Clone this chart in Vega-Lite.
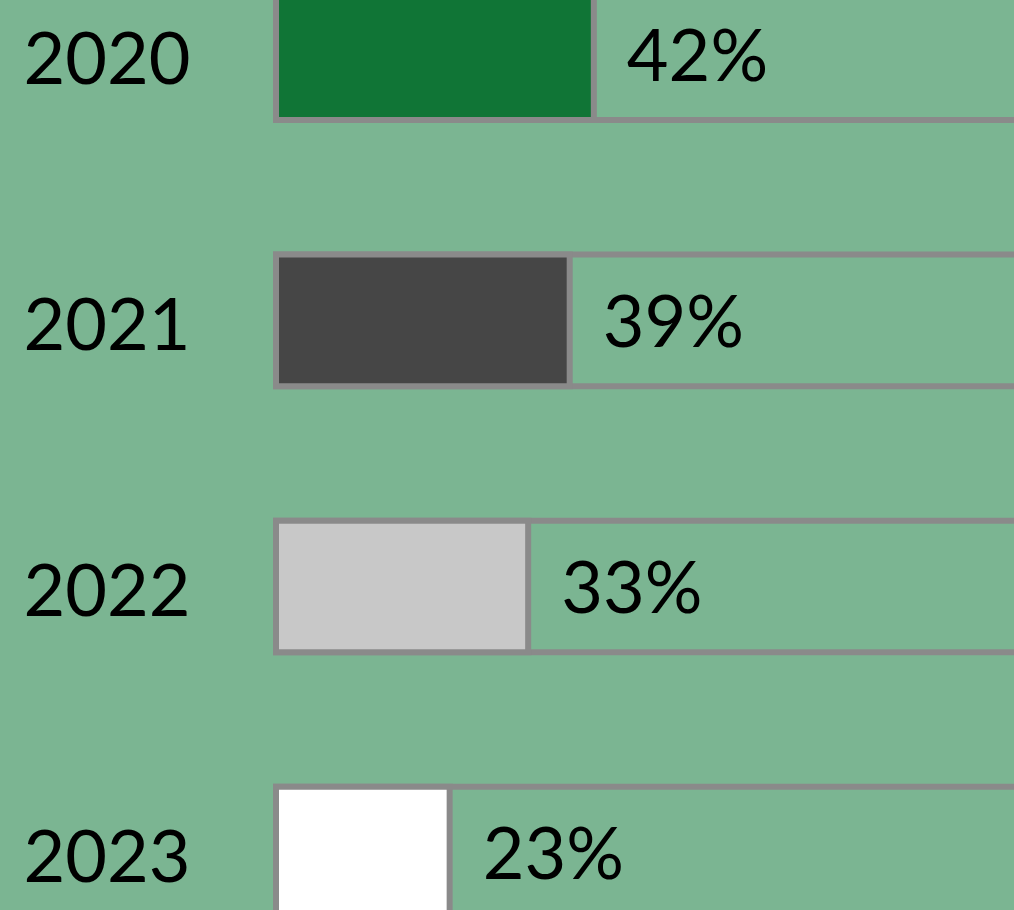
{
  "$schema": "https://vega.github.io/schema/vega-lite/v6.json",
  "width": 738,
  "height": 910,
  "autosize": "none",
  "padding": {"left": 276, "top": 0, "right": 0, "bottom": 0},
  "background": "#7bb592",
  "config": {"view": {"stroke": null}, "font": "Lato"},
  "data": {"values": [
    {"year": "2020", "value": 42.1, "label": "42%"},
    {"year": "2021", "value": 38.9, "label": "39%"},
    {"year": "2022", "value": 33.4, "label": "33%"},
    {"year": "2023", "value": 23.0, "label": "23%"}
  ]},
  "encoding": {
    "y": {
      "field": "year",
      "type": "nominal",
      "sort": null,
      "scale": {"range": [-11.45, 918.25], "paddingInner": 0.5057, "paddingOuter": 0},
      "axis": {
        "title": null,
        "domain": false,
        "ticks": false,
        "grid": false,
        "labelFont": "Lato",
        "labelFontSize": 72,
        "labelColor": "#000000",
        "labelPadding": 86,
        "labelOffset": 8
      }
    }
  },
  "layer": [
    {
      "mark": {"type": "bar", "fill": "#7bb592", "stroke": "#8a8a8a", "strokeWidth": 6},
      "encoding": {
        "x": {"datum": 0, "type": "quantitative", "scale": {"domain": [0, 100], "range": [0, 755]}, "axis": null},
        "x2": {"datum": 100}
      }
    },
    {
      "mark": {"type": "bar", "stroke": "#8a8a8a", "strokeWidth": 6},
      "encoding": {
        "x": {"field": "value", "type": "quantitative", "scale": {"domain": [0, 100], "range": [0, 755]}, "axis": null},
        "color": {
          "field": "year",
          "type": "nominal",
          "scale": {"domain": ["2020", "2021", "2022", "2023"], "range": ["#107536", "#464646", "#c8c8c8", "#ffffff"]},
          "legend": null
        }
      }
    },
    {
      "mark": {"type": "text", "align": "left", "baseline": "middle", "dx": 33, "dy": 5, "fontSize": 72, "font": "Lato", "color": "#000000"},
      "encoding": {
        "x": {"field": "value", "type": "quantitative", "scale": {"domain": [0, 100], "range": [0, 755]}, "axis": null},
        "text": {"field": "label"}
      }
    }
  ]
}
